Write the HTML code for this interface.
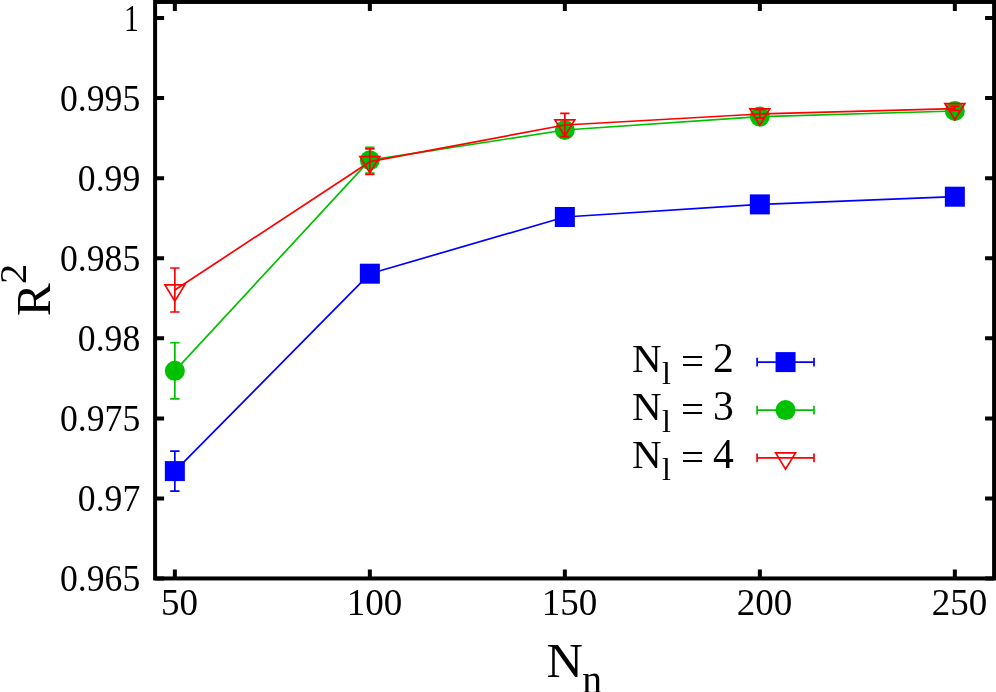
<!DOCTYPE html><html><head><meta charset="utf-8"><style>html,body{margin:0;padding:0;background:#fff;overflow:hidden;}svg{display:block;will-change:transform;}text{font-family:"Liberation Serif",serif;fill:#000;}</style></head><body>
<svg width="996" height="692" viewBox="0 0 996 692">
<rect x="0" y="0" width="996" height="692" fill="#fff"/>
<path d="M174.85 578.45V569.45M174.85 1.95V10.95M369.85 578.45V569.45M369.85 1.95V10.95M564.85 578.45V569.45M564.85 1.95V10.95M759.85 578.45V569.45M759.85 1.95V10.95M954.85 578.45V569.45M954.85 1.95V10.95M155.10 18.05H164.10M994.10 18.05H985.10M155.10 98.12H164.10M994.10 98.12H985.10M155.10 178.19H164.10M994.10 178.19H985.10M155.10 258.26H164.10M994.10 258.26H985.10M155.10 338.33H164.10M994.10 338.33H985.10M155.10 418.40H164.10M994.10 418.40H985.10M155.10 498.47H164.10M994.10 498.47H985.10M155.10 578.54H164.10M994.10 578.54H985.10" stroke="#000" stroke-width="4" fill="none"/>
<rect x="155.1" y="1.95" width="839.00" height="576.50" stroke="#000" stroke-width="4" fill="none"/>
<text transform="translate(131.5 30.65) scale(0.8 1)" font-size="37" text-anchor="middle">1</text>
<text transform="translate(140.2 110.62) scale(0.963 1)" font-size="37" text-anchor="end">0.995</text>
<text transform="translate(140.2 190.69) scale(0.963 1)" font-size="37" text-anchor="end">0.99</text>
<text transform="translate(140.2 270.76) scale(0.963 1)" font-size="37" text-anchor="end">0.985</text>
<text transform="translate(140.2 350.83) scale(0.963 1)" font-size="37" text-anchor="end">0.98</text>
<text transform="translate(140.2 430.90) scale(0.963 1)" font-size="37" text-anchor="end">0.975</text>
<text transform="translate(140.2 510.97) scale(0.963 1)" font-size="37" text-anchor="end">0.97</text>
<text transform="translate(140.2 591.04) scale(0.963 1)" font-size="37" text-anchor="end">0.965</text>
<text x="179.45" y="614.6" font-size="37" text-anchor="middle">50</text>
<text x="374.45" y="614.6" font-size="37" text-anchor="middle">100</text>
<text x="569.45" y="614.6" font-size="37" text-anchor="middle">150</text>
<text x="764.45" y="614.6" font-size="37" text-anchor="middle">200</text>
<text x="959.45" y="614.6" font-size="37" text-anchor="middle">250</text>
<text transform="translate(50.3 316.2) rotate(-90) scale(1.03 1)" font-size="48">R</text>
<text transform="translate(26.0 284.1) rotate(-90) scale(1.05 1)" font-size="38.4">2</text>
<text transform="translate(546.4 677) scale(1.05 1)" font-size="48">N</text>
<text x="582.3" y="692.6" font-size="39.5">n</text>
<polyline points="174.85,471.10 369.85,273.70 564.85,217.00 759.85,204.40 954.85,196.70" fill="none" stroke="#0000ff" stroke-width="1.7" stroke-linejoin="round"/>
<path d="M174.85 451.10V491.10M170.15 451.10H179.55M170.15 491.10H179.55" stroke="#0000ff" stroke-width="1.7" fill="none"/>
<rect x="164.85" y="461.10" width="20" height="20" fill="#0000ff"/>
<rect x="359.85" y="263.70" width="20" height="20" fill="#0000ff"/>
<rect x="554.85" y="207.00" width="20" height="20" fill="#0000ff"/>
<rect x="749.85" y="194.40" width="20" height="20" fill="#0000ff"/>
<rect x="944.85" y="186.70" width="20" height="20" fill="#0000ff"/>
<polyline points="174.85,370.85 369.85,160.20 564.85,130.00 759.85,116.60 954.85,111.00" fill="none" stroke="#00c000" stroke-width="1.7" stroke-linejoin="round"/>
<path d="M174.85 342.75V398.95M170.15 342.75H179.55M170.15 398.95H179.55M369.85 147.40V173.20M365.15 147.40H374.55M365.15 173.20H374.55M564.85 124.00V136.00M560.15 124.00H569.55M560.15 136.00H569.55" stroke="#00c000" stroke-width="1.7" fill="none"/>
<circle cx="174.85" cy="370.85" r="10.0" fill="#00c000"/>
<circle cx="369.85" cy="160.20" r="10.0" fill="#00c000"/>
<circle cx="564.85" cy="130.00" r="10.0" fill="#00c000"/>
<circle cx="759.85" cy="116.60" r="10.0" fill="#00c000"/>
<circle cx="954.85" cy="111.00" r="10.0" fill="#00c000"/>
<polyline points="174.85,290.00 369.85,161.70 564.85,125.00 759.85,114.00 954.85,108.60" fill="none" stroke="#ff0000" stroke-width="1.7" stroke-linejoin="round"/>
<path d="M174.85 268.00V312.00M170.15 268.00H179.55M170.15 312.00H179.55M369.85 148.90V174.50M365.15 148.90H374.55M365.15 174.50H374.55M564.85 113.35V136.65M560.15 113.35H569.55M560.15 136.65H569.55M759.85 109.60V118.20M755.15 109.60H764.55M755.15 118.20H764.55M954.85 106.30V110.30M950.15 106.30H959.55M950.15 110.30H959.55" stroke="#ff0000" stroke-width="1.7" fill="none"/>
<path d="M164.95 284.95H184.75L174.85 301.20Z" fill="none" stroke="#ff0000" stroke-width="1.7" stroke-linejoin="miter"/>
<path d="M359.95 156.65H379.75L369.85 172.90Z" fill="none" stroke="#ff0000" stroke-width="1.7" stroke-linejoin="miter"/>
<path d="M554.95 119.95H574.75L564.85 136.20Z" fill="none" stroke="#ff0000" stroke-width="1.7" stroke-linejoin="miter"/>
<path d="M749.95 108.95H769.75L759.85 125.20Z" fill="none" stroke="#ff0000" stroke-width="1.7" stroke-linejoin="miter"/>
<path d="M944.95 103.55H964.75L954.85 119.80Z" fill="none" stroke="#ff0000" stroke-width="1.7" stroke-linejoin="miter"/>
<text x="632" y="371.70" font-size="41">N</text>
<text x="662" y="383.80" font-size="32">l</text>
<text x="681" y="374.90" font-size="41">=</text>
<text x="712.9" y="371.70" font-size="41.6">2</text>
<path d="M757.1 362.1H814.0M757.1 357.70V366.50M814.0 357.70V366.50" stroke="#0000ff" stroke-width="1.7" fill="none"/>
<rect x="775.55" y="352.10" width="20" height="20" fill="#0000ff"/>
<text x="632" y="419.70" font-size="41">N</text>
<text x="662" y="431.80" font-size="32">l</text>
<text x="681" y="422.90" font-size="41">=</text>
<text x="712.9" y="419.70" font-size="41.6">3</text>
<path d="M757.1 410.1H814.0M757.1 405.70V414.50M814.0 405.70V414.50" stroke="#00c000" stroke-width="1.7" fill="none"/>
<circle cx="785.55" cy="410.10" r="10.0" fill="#00c000"/>
<text x="632" y="467.50" font-size="41">N</text>
<text x="662" y="479.60" font-size="32">l</text>
<text x="681" y="470.70" font-size="41">=</text>
<text x="712.9" y="467.50" font-size="41.6">4</text>
<path d="M757.1 457.9H814.0M757.1 453.50V462.30M814.0 453.50V462.30" stroke="#ff0000" stroke-width="1.7" fill="none"/>
<path d="M775.65 452.85H795.45L785.55 469.10Z" fill="none" stroke="#ff0000" stroke-width="1.7" stroke-linejoin="miter"/>
</svg></body></html>
